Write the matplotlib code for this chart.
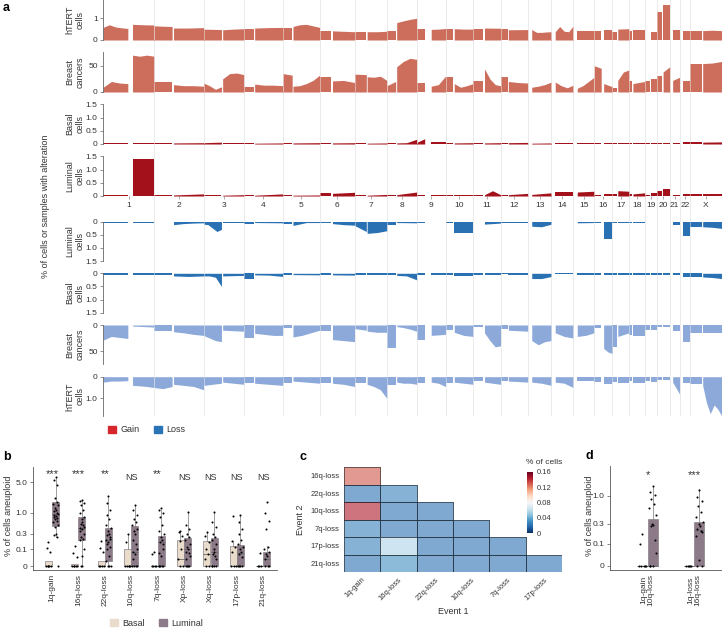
import numpy as np
import matplotlib
matplotlib.use('Agg')
import matplotlib.pyplot as plt
from matplotlib.patches import Patch
from matplotlib.colors import Normalize
from matplotlib.cm import ScalarMappable
import matplotlib.transforms as mtrans

plt.rcParams['font.family'] = ['Liberation Sans', 'DejaVu Sans']

# ---------------- data: panel a ----------------
CHROMS = ['1', '2', '3', '4', '5', '6', '7', '8', '9', '10', '11', '12', '13',
          '14', '15', '16', '17', '18', '19', '20', '21', '22', 'X']
CHROM_LEN = [249.3, 243.2, 198.0, 191.2, 180.9, 171.1, 159.1, 146.4, 141.2, 135.5,
             135.0, 133.9, 115.2, 107.3, 102.5, 90.4, 81.2, 78.1, 59.1, 63.0,
             48.1, 51.3, 155.3]
# (end of p arm, start of q arm) in Mb
ARM_GAP = [(121, 144), (89, 96), (88, 94), (48, 53), (46, 50), (58, 63), (58, 62),
           (43, 48), (39, 71), (38, 43), (51, 56), (34, 38), (0, 19), (0, 19),
           (0, 20), (35, 47), (22, 26), (15, 19), (24.5, 28.5), (26, 30), (0, 14),
           (0, 16), (58, 62)]

# values along each arm (p, q), chromosome order as CHROMS
HTERT_GAIN = [
    ([0.58, 0.7, 0.6, 0.56, 0.53], [0.72, 0.7, 0.69]),
    ([0.65, 0.62], [0.55, 0.55, 0.57]),
    ([0.5, 0.48], [0.47, 0.5, 0.52]),
    ([0.52], [0.55, 0.57, 0.58]),
    ([0.56], [0.62, 0.7, 0.72, 0.65, 0.58]),
    ([0.42, 0.42], [0.42, 0.4, 0.38]),
    ([0.35, 0.35], [0.38, 0.38, 0.4]),
    ([0.43], [0.8, 0.88, 0.95, 1.0]),
    ([0.49], [0.49, 0.5, 0.53]),
    ([0.52], [0.52, 0.5, 0.5]),
    ([0.5], [0.55, 0.54]),
    ([0.5], [0.47, 0.48]),
    ([], [0.48, 0.35, 0.35, 0.37, 0.38]),
    ([], [0.38, 0.62, 0.4, 0.38, 0.65]),
    ([], [0.43, 0.43, 0.43]),
    ([0.43], [0.45]),
    ([0.38], [0.5, 0.52]),
    ([0.43], [0.46, 0.46]),
    ([0.02], [0.38]),
    ([1.3], [1.6]),
    ([], [0.45]),
    ([], [0.43]),
    ([0.43], [0.43, 0.45, 0.43]),
]
BREAST_GAIN = [
    ([9, 20, 17, 16], [70, 68, 70, 68]),
    ([19, 19], [14, 12, 12, 11]),
    ([17, 12, 5, 10], [25, 35, 36, 33]),
    ([9], [15, 13, 13, 12]),
    ([35, 32], [11, 12, 16, 22, 32]),
    ([28, 28], [21, 22, 18]),
    ([34, 33], [29, 28, 30, 22]),
    ([12, 20], [48, 58, 64, 62]),
    ([18], [11, 14, 30]),
    ([28], [16, 9, 12, 16]),
    ([21], [44, 25, 14, 12]),
    ([28], [20, 18, 17]),
    ([], [9, 11, 14, 19]),
    ([], [19, 12, 8, 13]),
    ([], [7, 12, 20, 28]),
    ([50, 45], [16, 10]),
    ([7], [22, 38, 42]),
    ([20], [16, 20]),
    ([20], [24]),
    ([30], [38, 48]),
    ([], [22, 28]),
    ([], [20]),
    ([54, 54], [54, 55, 58]),
]
BASAL_GAIN = [
    ([0.03], [0.05, 0.05]),
    ([0.04], [0.04, 0.05]),
    ([0.05, 0.07], [0.05]),
    ([0.03], [0.03, 0.04]),
    ([0.03], [0.04, 0.05]),
    ([0.05], [0.04, 0.05]),
    ([0.04], [0.03, 0.04]),
    ([0.02], [0.04, 0.05, 0.18]),
    ([0.06, 0.2], [0.06]),
    ([0.04], [0.04, 0.05]),
    ([0.04], [0.04, 0.05]),
    ([0.05], [0.05, 0.06]),
    ([], [0.03, 0.04]),
    ([], [0.03, 0.03]),
    ([], [0.04, 0.04]),
    ([0.04], [0.04]),
    ([0.04], [0.05]),
    ([0.04], [0.04]),
    ([0.03], [0.03]),
    ([0.04], [0.04]),
    ([], [0.05]),
    ([], [0.07]),
    ([0.07], [0.07, 0.08]),
]
LUMINAL_GAIN = [
    ([0.02], [1.4, 1.4, 1.4]),
    ([0.04], [0.04, 0.06, 0.08]),
    ([0.02], [0.03, 0.05]),
    ([0.04], [0.03, 0.08]),
    ([0.03], [0.03, 0.04]),
    ([0.12], [0.1, 0.12, 0.14]),
    ([0.02], [0.03, 0.06]),
    ([0.03], [0.05, 0.1, 0.15]),
    ([0.02], [0.03]),
    ([0.02], [0.04]),
    ([0.05], [0.05, 0.2, 0.05]),
    ([0.03], [0.05, 0.1]),
    ([], [0.06, 0.12]),
    ([], [0.15, 0.15]),
    ([], [0.15, 0.18]),
    ([0.05], [0.06]),
    ([0.06], [0.2, 0.18]),
    ([0.06], [0.08, 0.12]),
    ([0.05], [0.1]),
    ([0.19], [0.26]),
    ([], [0.03]),
    ([], [0.08]),
    ([0.08], [0.08, 0.08]),
]
LUMINAL_LOSS = [
    ([0.05], [0.04]),
    ([0.03], [0.12, 0.08, 0.06, 0.05]),
    ([0.1, 0.12, 0.25, 0.38, 0.3], [0.06, 0.06]),
    ([0.08], [0.04, 0.05]),
    ([0.08], [0.15, 0.04, 0.04]),
    ([0.04], [0.08, 0.12, 0.14]),
    ([0.15, 0.38], [0.45, 0.42, 0.35]),
    ([0.13], [0.04, 0.05]),
    ([0.04], [0.03]),
    ([0.05], [0.45, 0.45]),
    ([0.03], [0.1, 0.06]),
    ([0.05], [0.05]),
    ([], [0.18, 0.2, 0.1]),
    ([], [0.03]),
    ([], [0.05, 0.04]),
    ([0.05], [0.68]),
    ([0.05], [0.04]),
    ([0.04], [0.06]),
    ([0.03], [0.03]),
    ([0.02], [0.02]),
    ([], [0.15]),
    ([], [0.55]),
    ([0.22], [0.2, 0.22, 0.26]),
]
BASAL_LOSS = [
    ([0.06], [0.06]),
    ([0.07], [0.1, 0.12, 0.1]),
    ([0.1, 0.1, 0.15, 0.5], [0.1, 0.08]),
    ([0.2], [0.06, 0.07, 0.12]),
    ([0.05], [0.05, 0.06]),
    ([0.05], [0.06, 0.07]),
    ([0.06], [0.06, 0.06]),
    ([0.05], [0.08, 0.1, 0.25]),
    ([0.05], [0.06]),
    ([0.07], [0.1]),
    ([0.05], [0.05]),
    ([0.04], [0.07]),
    ([], [0.2, 0.2, 0.12]),
    ([], [0.04]),
    ([], [0.06]),
    ([0.05], [0.06]),
    ([0.05], [0.05]),
    ([0.06], [0.08]),
    ([0.06], [0.06]),
    ([0.05], [0.05]),
    ([], [0.06]),
    ([], [0.15]),
    ([0.15], [0.14, 0.16, 0.2]),
]
BREAST_LOSS = [
    ([29, 22, 24, 26], [2, 3, 4]),
    ([12, 12], [13, 15, 18, 20]),
    ([20, 25, 30, 32], [10, 11, 12]),
    ([25], [16, 18, 20, 20]),
    ([5], [23, 20, 15, 10]),
    ([12], [28, 30, 32]),
    ([7, 10], [12, 14, 14]),
    ([45], [3, 5, 8, 12]),
    ([28], [20, 18]),
    ([10], [14, 20, 22]),
    ([3], [15, 30, 42, 40]),
    ([8], [10, 12]),
    ([], [30, 38, 32, 30]),
    ([], [15, 22, 25]),
    ([], [22, 20, 15]),
    ([5], [45, 52, 55]),
    ([42], [22, 15]),
    ([20], [22, 22]),
    ([10], [10]),
    ([4], [4]),
    ([], [12]),
    ([], [32]),
    ([15], [15, 15, 15]),
]
HTERT_LOSS = [
    ([0.25, 0.2, 0.2, 0.18], [0.4, 0.42, 0.45, 0.5]),
    ([0.5, 0.55, 0.45], [0.35, 0.4, 0.45, 0.6]),
    ([0.4, 0.35, 0.3], [0.25, 0.3, 0.35]),
    ([0.3], [0.3, 0.35, 0.4]),
    ([0.3], [0.2, 0.25, 0.3]),
    ([0.3], [0.3, 0.35, 0.45]),
    ([0.3], [0.35, 0.45, 0.6, 1.0]),
    ([0.38], [0.25, 0.3, 0.3, 0.35]),
    ([0.3], [0.25, 0.3, 0.45]),
    ([0.3], [0.25, 0.3, 0.35]),
    ([0.2], [0.25, 0.35]),
    ([0.2], [0.2, 0.25]),
    ([], [0.25, 0.3, 0.4]),
    ([], [0.25, 0.3, 0.5]),
    ([], [0.2, 0.2]),
    ([0.25], [0.35]),
    ([0.25], [0.3]),
    ([0.2], [0.3]),
    ([0.2], [0.25]),
    ([0.15], [0.15]),
    ([], [0.25, 0.8]),
    ([], [0.3]),
    ([0.35], [0.4, 1.2, 1.7, 1.3, 1.5, 1.8]),
]

# ---------------- data: panel b ----------------
B_CATS = ['1q-gain', '16q-loss', '22q-loss', '10q-loss', '7q-loss', 'Xp-loss',
          'Xq-loss', '17p-loss', '21q-loss']
B_SIG = ['***', '***', '**', 'NS', '**', 'NS', 'NS', 'NS', 'NS']
# (whislo, q1, med, q3, whishi)
B_BASAL_BOX = [(0, 0, 0, 0.02, 0.02), (0, 0, 0, 0.01, 0.01), (0, 0, 0, 0.02, 0.02),
               (0, 0, 0, 0.1, 0.3), (0, 0, 0, 0, 0), (0, 0, 0.03, 0.2, 0.37),
               (0, 0, 0.06, 0.19, 0.33), (0, 0, 0, 0.13, 0.19), (0, 0, 0, 0, 0)]
B_LUMINAL_BOX = [(0.25, 0.47, 0.95, 1.8, 6.5), (0, 0.2, 0.43, 0.8, 1.9),
                 (0, 0.02, 0.2, 0.43, 2.3), (0, 0, 0.08, 0.47, 1.5),
                 (0, 0, 0.17, 0.27, 1.2), (0, 0, 0.1, 0.23, 1.05),
                 (0, 0, 0.08, 0.23, 1.05), (0, 0, 0.07, 0.14, 0.9),
                 (0, 0, 0.03, 0.08, 0.13)]
B_BASAL_PTS = [
    [0.17, 0.11, 0.08, 0, 0, 0, 0, 0],
    [0.13, 0.07, 0.04, 0, 0, 0, 0, 0],
    [0.19, 0.11, 0.08, 0, 0, 0, 0],
    [0.3, 0.17, 0, 0, 0, 0, 0],
    [0.08, 0.06, 0, 0, 0, 0],
    [0.37, 0.33, 0.26, 0.19, 0.1, 0.03, 0, 0],
    [0.33, 0.26, 0.17, 0.1, 0.06, 0.03, 0, 0],
    [0.85, 0.19, 0.12, 0.08, 0, 0, 0],
    [0.07, 0, 0, 0],
]
B_LUMINAL_PTS = [
    [6.5, 5.5, 4.2, 2.2, 1.8, 1.6, 1.5, 1.3, 1.2, 1.1, 1.0, 0.95, 0.9, 0.85, 0.8,
     0.75, 0.7, 0.65, 0.6, 0.5, 0.45, 0.3, 0.28, 0.25, 0],
    [2.0, 1.9, 1.7, 1.5, 1.2, 1.0, 0.8, 0.7, 0.6, 0.55, 0.5, 0.45, 0.42, 0.4, 0.35,
     0.3, 0.25, 0.22, 0.2, 0.1, 0.05, 0, 0],
    [2.4, 1.7, 1.2, 0.9, 0.7, 0.5, 0.42, 0.35, 0.3, 0.28, 0.25, 0.22, 0.2, 0.18,
     0.15, 0.12, 0.1, 0.05, 0.02, 0, 0, 0],
    [1.5, 1.2, 0.9, 0.7, 0.6, 0.5, 0.4, 0.35, 0.3, 0.2, 0.15, 0.1, 0.08, 0.06,
     0.03, 0, 0, 0, 0],
    [1.3, 1.2, 1.0, 0.8, 0.5, 0.35, 0.3, 0.25, 0.2, 0.18, 0.15, 0.1, 0.07, 0.05,
     0, 0, 0, 0, 0],
    [1.05, 0.5, 0.4, 0.3, 0.25, 0.2, 0.15, 0.12, 0.1, 0.08, 0.07, 0.05, 0.03, 0,
     0, 0, 0],
    [1.05, 0.6, 0.45, 0.3, 0.25, 0.2, 0.15, 0.1, 0.08, 0.06, 0.05, 0.03, 0, 0, 0, 0],
    [0.9, 0.6, 0.4, 0.3, 0.2, 0.15, 0.12, 0.1, 0.08, 0.06, 0.04, 0, 0, 0, 0],
    [1.75, 1.0, 0.65, 0.4, 0.12, 0.1, 0.08, 0.06, 0.05, 0.03, 0, 0, 0],
]

# ---------------- data: panel c ----------------
C_EVENT1 = ['1q-gain', '16q-loss', '22q-loss', '10q-loss', '7q-loss', '17p-loss']
C_EVENT2 = ['16q-loss', '22q-loss', '10q-loss', '7q-loss', '17p-loss', '21q-loss']
C_VALUES = [
    [0.13],
    [0.02, 0.025],
    [0.145, 0.02, 0.02],
    [0.025, 0.02, 0.02, 0.02],
    [0.025, 0.055, 0.02, 0.02, 0.02],
    [0.02, 0.03, 0.02, 0.02, 0.02, 0.02],
]

# ---------------- data: panel d ----------------
D_CATS = ['1q-gain\n10q-loss', '1q-loss\n16q-loss']
D_SIG = ['*', '***']
D_BASAL_BOX = [(0, 0, 0, 0, 0), (0, 0, 0, 0, 0)]
D_LUMINAL_BOX = [(0, 0, 0, 0.38, 1.5), (0, 0, 0.22, 0.32, 1.35)]
D_BASAL_PTS = [[0.18, 0.1, 0, 0, 0, 0, 0], [0, 0, 0, 0, 0]]
D_LUMINAL_PTS = [
    [1.5, 1.2, 1.05, 0.9, 0.72, 0.6, 0.45, 0.3, 0.28, 0.27, 0.13, 0.05, 0, 0, 0],
    [1.3, 0.97, 0.8, 0.65, 0.5, 0.4, 0.33, 0.29, 0.27, 0.23, 0.21, 0.2, 0.16,
     0.02, 0, 0],
]

# ---------------- figure ----------------
W, H = 722, 628
fig = plt.figure(figsize=(W / 100, H / 100), dpi=100)


def rect(x0, y0, x1, y1):
    return [x0 / W, 1 - y1 / H, (x1 - x0) / W, (y1 - y0) / H]


TXT = '#333333'
offsets = np.concatenate([[0], np.cumsum(CHROM_LEN)[:-1]])
total = float(np.sum(CHROM_LEN))
centers = offsets + np.array(CHROM_LEN) / 2
GX0, GX1 = 103.2, 721.7

bg = fig.add_axes(rect(GX0, 0, GX1, 416))
bg.set_xlim(0, total)
bg.axis('off')
for b in offsets[1:]:
    bg.axvline(b, color='#e6e6e6', lw=0.6)


def draw_profile(ax, profile, color):
    for i, (pv, qv) in enumerate(profile):
        p_end, q_start = ARM_GAP[i]
        for vals, a, b in ((pv, 0, p_end), (qv, q_start, CHROM_LEN[i])):
            if not vals:
                continue
            if len(vals) == 1:
                xs = offsets[i] + np.array([a, b])
                ys = [vals[0], vals[0]]
            else:
                xs = offsets[i] + np.linspace(a, b, len(vals))
                ys = vals
            ax.fill_between(xs, 0, ys, color=color, lw=0)


C_SALMON = '#CD6D5C'
C_DRED = '#A3111A'
C_DBLUE = '#2A71B3'
C_LBLUE = '#8CA9DA'

rows = [
    (HTERT_GAIN, C_SALMON, 0, 40, 1.84, [0, 1], ['0', '1'], 'hTERT\ncells', False),
    (BREAST_GAIN, C_SALMON, 52, 92, 76, [0, 50], ['0', '50'], 'Breast\ncancers', False),
    (BASAL_GAIN, C_DRED, 104.3, 144, 1.5, [0, 0.5, 1, 1.5], ['0', '0.5', '1.0', '1.5'], 'Basal\ncells', False),
    (LUMINAL_GAIN, C_DRED, 156.3, 196, 1.5, [0, 0.5, 1, 1.5], ['0', '0.5', '1.0', '1.5'], 'Luminal\ncells', False),
    (LUMINAL_LOSS, C_DBLUE, 221.5, 261, 1.5, [0, 0.5, 1, 1.5], ['0', '0.5', '1.0', '1.5'], 'Luminal\ncells', True),
    (BASAL_LOSS, C_DBLUE, 273.3, 312.7, 1.5, [0, 0.5, 1, 1.5], ['0', '0.5', '1.0', '1.5'], 'Basal\ncells', True),
    (BREAST_LOSS, C_LBLUE, 325, 364, 75, [0, 50], ['0', '50'], 'Breast\ncancers', True),
    (HTERT_LOSS, C_LBLUE, 376.7, 416, 1.81, [0, 1], ['0', '1.0'], 'hTERT\ncells', True),
]
for k, (prof, col, y0, y1, ymax, ticks, tlabels, label, inv) in enumerate(rows):
    ax = fig.add_axes(rect(GX0, y0, GX1, y1))
    ax.patch.set_alpha(0)
    draw_profile(ax, prof, col)
    for b in offsets[1:]:
        ax.axvline(b, color='#eeeeee', lw=0.5, alpha=0.7, zorder=3)
    ax.set_xlim(0, total)
    if inv:
        ax.set_ylim(ymax, 0)
    else:
        ax.set_ylim(0, ymax)
    for s in ('top', 'right', 'bottom'):
        ax.spines[s].set_visible(False)
    ax.spines['left'].set_color('#666666')
    ax.spines['left'].set_linewidth(0.6)
    ax.set_yticks(ticks)
    ax.set_yticklabels(tlabels)
    ax.tick_params(axis='y', length=2, width=0.5, color='#666666', labelsize=6,
                   labelcolor=TXT, pad=2)
    if k == 3:
        ax.set_xticks(centers)
        ax.set_xticklabels(CHROMS)
        ax.tick_params(axis='x', length=2, width=0.5, color='#888888', labelsize=6,
                       labelcolor=TXT, pad=2)
    else:
        ax.set_xticks([])
    fig.text(75 / W, 1 - (y0 + y1) / 2 / H, label, rotation=90, ha='center',
             va='center', fontsize=6.5, color=TXT, linespacing=1.1,
             multialignment='center')

fig.text(46 / W, 1 - 206 / H, '% of cells or samples with alteration', rotation=90,
         ha='center', va='center', fontsize=6.5, color=TXT)
fig.legend(handles=[Patch(color='#D7262B', label='Gain'),
                    Patch(color='#2A74B5', label='Loss')],
           loc='center left', bbox_to_anchor=(103 / W, 1 - 430 / H), ncol=2,
           frameon=False, fontsize=6.5, handlelength=0.9, handleheight=0.9,
           handletextpad=0.5, columnspacing=1.6, borderpad=0, labelcolor=TXT)

# ---------------- box panels helper ----------------
OFF = 0.075
JIT = [0, -0.55, 0.55, -0.3, 0.3, -0.75, 0.75, -0.15, 0.15, -0.45, 0.45, 0.65, -0.65]
C_BASAL = '#EADCCB'
C_LUM = '#8D7A89'


def fwd(y):
    return np.log10(np.maximum(np.asarray(y, dtype=float) + OFF, 1e-6))


def inv(f):
    return 10 ** np.asarray(f, dtype=float) - OFF


def box_panel(ax, basal_box, lum_box, basal_pts, lum_pts, dx, width):
    for i in range(len(basal_box)):
        for boxes, pts, sgn, col in ((basal_box, basal_pts, -1, C_BASAL),
                                     (lum_box, lum_pts, 1, C_LUM)):
            lo, q1, med, q3, hi = boxes[i]
            pos = i + sgn * dx
            ax.bxp([dict(whislo=lo, q1=q1, med=med, q3=q3, whishi=hi, fliers=[])],
                   positions=[pos], widths=width, patch_artist=True,
                   showcaps=False, showfliers=False,
                   boxprops=dict(facecolor=col, edgecolor='#8a8088', lw=0.5),
                   whiskerprops=dict(color='#777777', lw=0.5),
                   medianprops=dict(color='#6a6a6a', lw=0.6), manage_ticks=False)
            xs = [pos + JIT[j % len(JIT)] * width * 0.45 for j in range(len(pts[i]))]
            ax.scatter(xs, pts[i], s=2.2, color='black', lw=0, zorder=4)


def style_box_ax(ax):
    ax.set_yscale('function', functions=(fwd, inv))
    for s in ('top', 'right'):
        ax.spines[s].set_visible(False)
    for s in ('left', 'bottom'):
        ax.spines[s].set_color('#555555')
        ax.spines[s].set_linewidth(0.6)
    ax.tick_params(axis='y', length=2, width=0.5, labelsize=6, labelcolor=TXT,
                   color='#555555', pad=2)
    ax.tick_params(axis='x', length=0, labelsize=6, labelcolor=TXT, pad=3)


# ---------------- panel b ----------------
axb = fig.add_axes(rect(33, 466.7, 277, 570))
style_box_ax(axb)
box_panel(axb, B_BASAL_BOX, B_LUMINAL_BOX, B_BASAL_PTS, B_LUMINAL_PTS, 0.135, 0.265)
axb.set_ylim(-0.0136, 10.86)
axb.set_yticks([0, 0.1, 0.3, 1.0, 5.0])
axb.set_yticklabels(['0', '0.1', '0.3', '1.0', '5.0'])
axb.set_xlim(-0.72, 8.52)
axb.set_xticks(range(len(B_CATS)))
axb.set_xticklabels(B_CATS, rotation=90)
tb = mtrans.blended_transform_factory(axb.transData, axb.transAxes)
for i, s in enumerate(B_SIG):
    star = '*' in s
    axb.text(i, 0.895 if star else 0.875, s, transform=tb, ha='center',
             va='baseline', fontsize=8 if star else 6.5, color=TXT)
fig.text(9 / W, 1 - 516 / H, '% of cells aneuploid', rotation=90, ha='center',
         va='center', fontsize=6.5, color=TXT)
fig.legend(handles=[Patch(color=C_BASAL, label='Basal'),
                    Patch(color=C_LUM, label='Luminal')],
           loc='center left', bbox_to_anchor=(105 / W, 1 - 623 / H), ncol=2,
           frameon=False, fontsize=6.5, handlelength=0.9, handleheight=0.9,
           handletextpad=0.5, columnspacing=1.6, borderpad=0, labelcolor=TXT)

# ---------------- panel c ----------------
axc = fig.add_axes(rect(344, 467, 562, 572))
n = len(C_EVENT1)
norm = Normalize(0, 0.16)
for r, row in enumerate(C_VALUES):
    axc.pcolormesh(np.arange(len(row) + 1), [r, r + 1], np.array([row]),
                   cmap='RdBu_r', norm=norm, alpha=0.6,
                   edgecolors='#222222', linewidth=0.6)
axc.set_xlim(0, n)
axc.set_ylim(n, 0)
axc.set_xticks(np.arange(n) + 0.5)
axc.set_xticklabels(C_EVENT1, rotation=45, ha='right', rotation_mode='anchor')
axc.set_yticks(np.arange(n) + 0.5)
axc.set_yticklabels(C_EVENT2)
axc.tick_params(length=0, labelsize=5.5, labelcolor=TXT, pad=3)
for s in axc.spines.values():
    s.set_visible(False)
axc.set_xlabel('Event 1', fontsize=6.5, color=TXT, labelpad=4)
axc.set_ylabel('Event 2', fontsize=6.5, color=TXT, labelpad=4)

cax = fig.add_axes(rect(527, 471.7, 533, 533))
cb = fig.colorbar(ScalarMappable(norm=norm, cmap='RdBu_r'), cax=cax)
cb.outline.set_visible(False)
cb.set_ticks([0, 0.04, 0.08, 0.12, 0.16])
cb.set_ticklabels(['0', '0.04', '0.08', '0.12', '0.16'])
cax.tick_params(length=0, labelsize=5.5, labelcolor=TXT, pad=3)
fig.text(526 / W, 1 - 462 / H, '% of cells', fontsize=6, color=TXT, va='center')

# ---------------- panel d ----------------
axd = fig.add_axes(rect(610, 466, 722, 570))
style_box_ax(axd)
box_panel(axd, D_BASAL_BOX, D_LUMINAL_BOX, D_BASAL_PTS, D_LUMINAL_PTS, 0.11, 0.215)
axd.set_ylim(-0.0106, 3.29)
axd.set_yticks([0, 0.1, 0.3, 1.0])
axd.set_yticklabels(['0', '0.1', '0.3', '1.0'])
axd.set_xlim(-0.806, 1.6)
axd.set_xticks(range(len(D_CATS)))
axd.set_xticklabels(D_CATS, rotation=90, linespacing=1.0)
td = mtrans.blended_transform_factory(axd.transData, axd.transAxes)
for i, s in enumerate(D_SIG):
    axd.text(i, 0.88, s, transform=td, ha='center', va='baseline', fontsize=8,
             color=TXT)
fig.text(589 / W, 1 - 516 / H, '% of cells aneuploid', rotation=90, ha='center',
         va='center', fontsize=6.5, color=TXT)

# panel letters
for lab, x, y in (('a', 3, 8), ('b', 3, 457), ('c', 300, 457), ('d', 585, 456)):
    fig.text(x / W, 1 - y / H, lab, fontsize=9, fontweight='bold', va='center')

fig.savefig('out.png', dpi=100)
